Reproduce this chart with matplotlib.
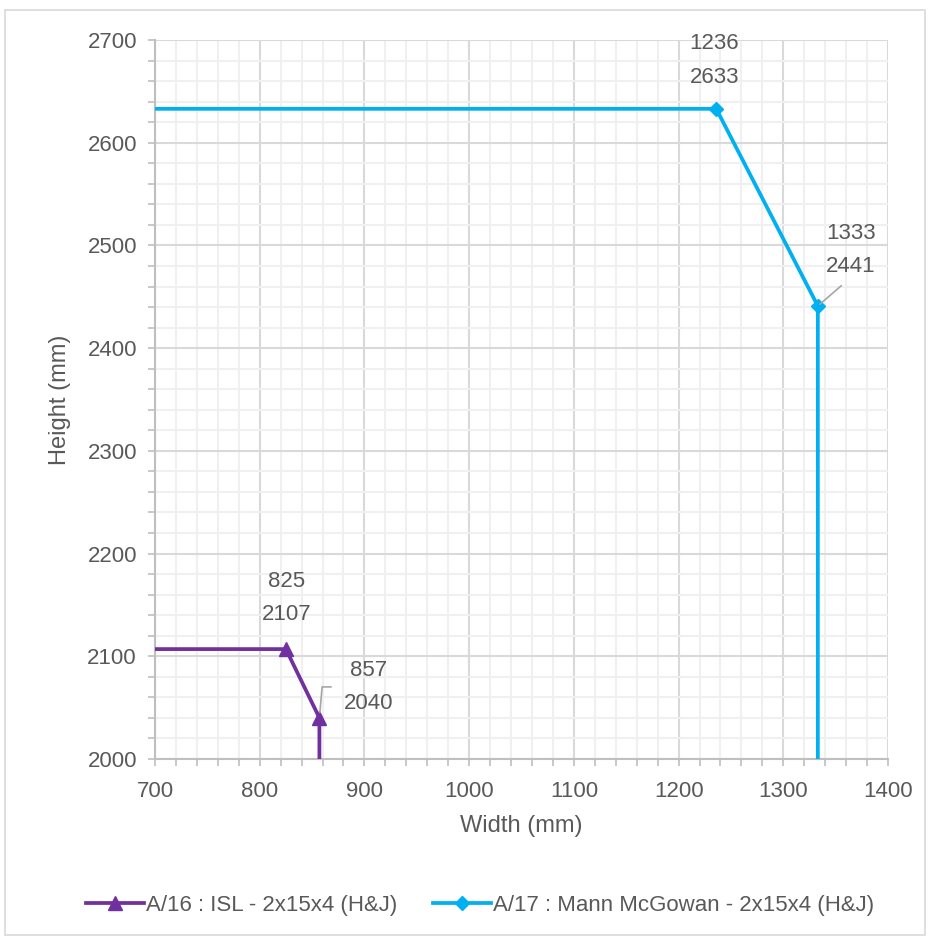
import matplotlib
matplotlib.use("Agg")
import matplotlib.pyplot as plt
from matplotlib.ticker import MultipleLocator
from matplotlib.patches import Rectangle
from matplotlib.lines import Line2D

plt.rcParams['font.family'] = ['Liberation Sans', 'DejaVu Sans']

# Data
s1_name = "A/16 : ISL - 2x15x4 (H&J)"
s1_x = [0, 825, 857, 857]
s1_y = [2107, 2107, 2040, 0]
s2_name = "A/17 : Mann McGowan - 2x15x4 (H&J)"
s2_x = [0, 1236, 1333, 1333]
s2_y = [2633, 2633, 2441, 0]

purple = '#7030A0'
cyan = '#00B0F0'
txt = '#595959'
grid_major = '#D9D9D9'
grid_minor = '#F0F0F0'

fig = plt.figure(figsize=(9.31, 9.38), dpi=100)
ax = fig.add_axes([155/931, 1-759/938, (888-155)/931, (759-40)/938])

ax.set_xlim(700, 1400)
ax.set_ylim(2000, 2700)
ax.xaxis.set_major_locator(MultipleLocator(100))
ax.yaxis.set_major_locator(MultipleLocator(100))
ax.xaxis.set_minor_locator(MultipleLocator(20))
ax.yaxis.set_minor_locator(MultipleLocator(20))
ax.grid(which='minor', color=grid_minor, linewidth=1.5, zorder=0)
ax.grid(which='major', color=grid_major, linewidth=1.5, zorder=0)
ax.set_axisbelow(True)

for s in ['top', 'right']:
    ax.spines[s].set_visible(False)
for s in ['left', 'bottom']:
    ax.spines[s].set_color('#BFBFBF')
    ax.spines[s].set_linewidth(1.5)

ax.tick_params(which='both', direction='out', color='#BFBFBF', width=1.2, length=5)
ax.tick_params(axis='x', which='major', pad=11, labelsize=16, labelcolor=txt)
ax.tick_params(axis='y', which='major', pad=8, labelsize=16, labelcolor=txt)

ax.plot(s1_x, s1_y, color=purple, lw=2.7, marker='^', ms=10, clip_on=True, zorder=3)
ax.plot(s2_x, s2_y, color=cyan, lw=2.7, marker='D', ms=7.5, clip_on=True, zorder=3)

lab_kw = dict(textcoords='offset pixels', ha='center', va='center', fontsize=16,
              color=txt, linespacing=1.8, zorder=4)
ax.annotate(f"{s1_x[1]}\n{s1_y[1]}", xy=(s1_x[1], s1_y[1]), xytext=(1, 51), **lab_kw)
ax.annotate(f"{s1_x[2]}\n{s1_y[2]}", xy=(s1_x[2], s1_y[2]), xytext=(49, 31),
            arrowprops=dict(arrowstyle='-', color='#A6A6A6', lw=1.2,
                            connectionstyle='angle,angleA=0,angleB=85,rad=0',
                            relpos=(0, 0.5), shrinkA=7, shrinkB=4), **lab_kw)
ax.annotate(f"{s2_x[1]}\n{s2_y[1]}", xy=(s2_x[1], s2_y[1]), xytext=(-2, 48), **lab_kw)
ax.annotate(f"{s2_x[2]}\n{s2_y[2]}", xy=(s2_x[2], s2_y[2]), xytext=(33, 56),
            arrowprops=dict(arrowstyle='-', color='#A6A6A6', lw=1.2,
                            relpos=(0.5, 0), shrinkA=6, shrinkB=2), **lab_kw)

ax.set_xlabel("Width (mm)", fontsize=17, color=txt, labelpad=9)
ax.set_ylabel("Height (mm)", fontsize=17, color=txt, labelpad=12)

handles = [Line2D([], [], color=purple, lw=2.7, marker='^', ms=10),
           Line2D([], [], color=cyan, lw=2.7, marker='D', ms=7.5)]
fig.legend(handles, [s1_name, s2_name], loc='center', bbox_to_anchor=(0.5156, 1-905/938),
           ncol=2, frameon=False, fontsize=16, labelcolor=txt, handlelength=2.6,
           handletextpad=0.1, columnspacing=1.6)

fig.patches.append(Rectangle((5/931, 1-935/938), 920/931, 925/938, transform=fig.transFigure,
                             fill=False, edgecolor='#D9D9D9', lw=1.2))

fig.savefig("out.png", dpi=100, facecolor='white')
